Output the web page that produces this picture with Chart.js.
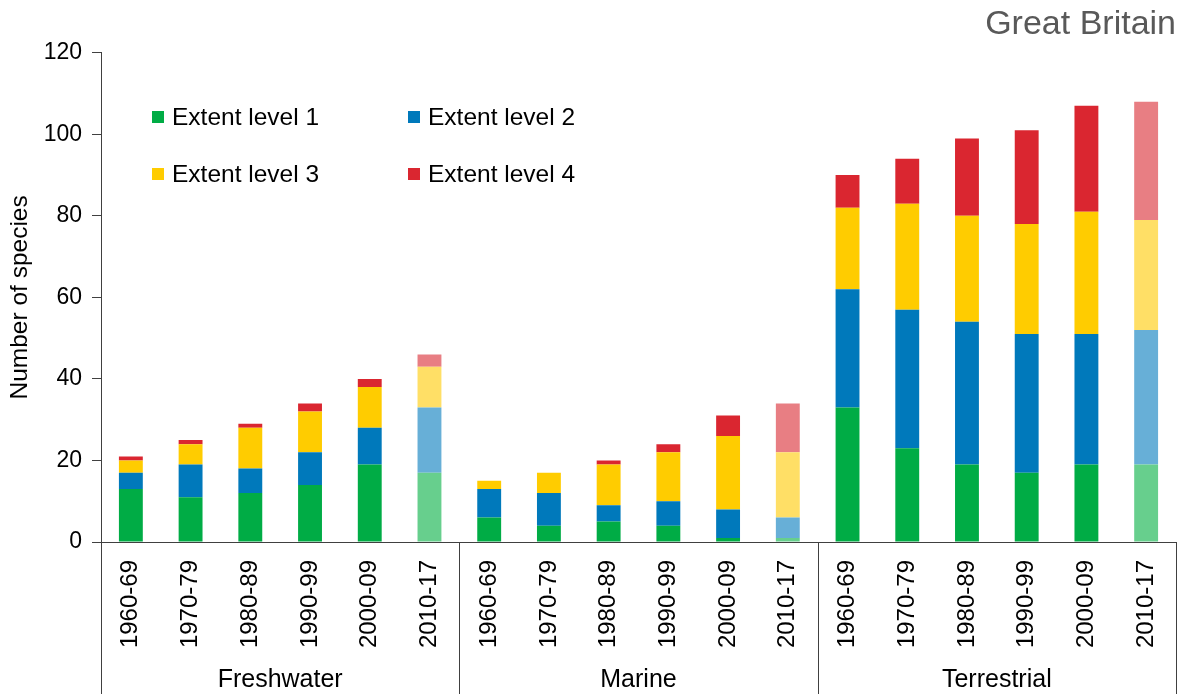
<!DOCTYPE html>
<html>
<head>
<meta charset="utf-8">
<script src="https://cdn.jsdelivr.net/npm/chart.js@4"></script>
<style>
  html, body { margin: 0; padding: 0; background: #fff; }
  #wrap { width: 1188px; height: 694px; }
</style>
</head>
<body>
<div id="wrap"><canvas id="chart" width="1188" height="694"></canvas></div>
<script>
const periods = ['1960-69', '1970-79', '1980-89', '1990-99', '2000-09', '2010-17'];
const groups = ['Freshwater', 'Marine', 'Terrestrial'];
const labels = groups.flatMap(() => periods);

// number of species per extent level, 6 periods per habitat
const level1 = [13, 11, 12, 14, 19, 17,  6, 4, 5, 4, 1, 1,  33, 23, 19, 17, 19, 19];
const level2 = [4, 8, 6, 8, 9, 16,  7, 8, 4, 6, 7, 5,  29, 34, 35, 34, 32, 33];
const level3 = [3, 5, 10, 10, 10, 10,  2, 5, 10, 12, 18, 16,  20, 26, 26, 27, 30, 27];
const level4 = [1, 1, 1, 2, 2, 3,  0, 0, 1, 2, 5, 12,  8, 11, 19, 23, 26, 29];

const FONT = "'Liberation Sans', Arial, sans-serif";

// last period in each habitat is drawn paler
function shades(full, pale) {
  return labels.map((l, i) => (i % periods.length === periods.length - 1 ? pale : full));
}

const series = [
  { label: 'Extent level 1', data: level1, color: '#00AC45', pale: '#67CF8D' },
  { label: 'Extent level 2', data: level2, color: '#0079BB', pale: '#67AFD7' },
  { label: 'Extent level 3', data: level3, color: '#FFCC00', pale: '#FFDF66' },
  { label: 'Extent level 4', data: level4, color: '#DA2630', pale: '#E87E83' }
];

const groupPlugin = {
  id: 'groups',
  afterDraw(chart) {
    const { ctx, chartArea, scales } = chart;
    const x = scales.x;
    const h = chart.height;
    ctx.save();
    ctx.strokeStyle = '#404040';
    ctx.lineWidth = 1;
    const bounds = [chartArea.left];
    for (let g = 1; g < groups.length; g++) {
      const i = g * periods.length;
      bounds.push((x.getPixelForValue(i - 1) + x.getPixelForValue(i)) / 2);
    }
    bounds.push(chartArea.right);
    bounds.forEach(bx => {
      const px = Math.round(bx) + 0.5;
      ctx.beginPath();
      ctx.moveTo(px, chartArea.bottom);
      ctx.lineTo(px, h);
      ctx.stroke();
    });
    ctx.fillStyle = '#000';
    ctx.font = '25px ' + FONT;
    ctx.textAlign = 'center';
    ctx.textBaseline = 'middle';
    groups.forEach((g, k) => {
      ctx.fillText(g, (bounds[k] + bounds[k + 1]) / 2, h - 14);
    });
    ctx.restore();
  }
};

const legendPlugin = {
  id: 'innerLegend',
  afterDraw(chart) {
    const { ctx, chartArea } = chart;
    ctx.save();
    ctx.font = '24.5px ' + FONT;
    ctx.textBaseline = 'middle';
    ctx.textAlign = 'left';
    chart.data.datasets.forEach((ds, i) => {
      const cx = chartArea.left + 51 + (i % 2) * 256;
      const cy = 117 + Math.floor(i / 2) * 57;
      ctx.fillStyle = series[i].color;
      ctx.fillRect(cx, cy - 6, 12, 12);
      ctx.fillStyle = '#000';
      ctx.fillText(ds.label, cx + 20, cy + 1);
    });
    ctx.restore();
  }
};

new Chart(document.getElementById('chart'), {
  type: 'bar',
  data: {
    labels: labels,
    datasets: series.map(s => ({
      label: s.label,
      data: s.data,
      backgroundColor: shades(s.color, s.pale),
      borderWidth: 0
    }))
  },
  options: {
    responsive: false,
    animation: false,
    layout: { padding: { left: 0, right: 12, top: 0, bottom: 0 } },
    datasets: { bar: { categoryPercentage: 1, barPercentage: 0.4 } },
    plugins: {
      legend: { display: false },
      tooltip: { enabled: false },
      title: {
        display: true,
        text: 'Great Britain',
        align: 'end',
        color: '#595959',
        font: { family: FONT, size: 34, weight: 'normal' },
        padding: { top: 4, bottom: 8 }
      }
    },
    scales: {
      x: {
        stacked: true,
        grid: { display: false },
        border: { display: true, color: '#404040', width: 1 },
        ticks: {
          color: '#000',
          font: { family: FONT, size: 24 },
          minRotation: 90,
          maxRotation: 90,
          autoSkip: false,
          padding: 10
        },
        afterFit(scale) { scale.height = 152; }
      },
      y: {
        stacked: true,
        min: 0,
        max: 120,
        ticks: {
          stepSize: 20,
          color: '#000',
          font: { family: FONT, size: 23 },
          padding: 10
        },
        grid: { drawOnChartArea: false, color: '#404040', tickLength: 9 },
        border: { display: true, color: '#404040', width: 1 },
        title: {
          display: true,
          text: 'Number of species',
          color: '#000',
          font: { family: FONT, size: 24.5 },
          padding: { top: 6, bottom: 0 }
        },
        afterFit(scale) { scale.width = 101; }
      }
    }
  },
  plugins: [groupPlugin, legendPlugin]
});
</script>
</body>
</html>
